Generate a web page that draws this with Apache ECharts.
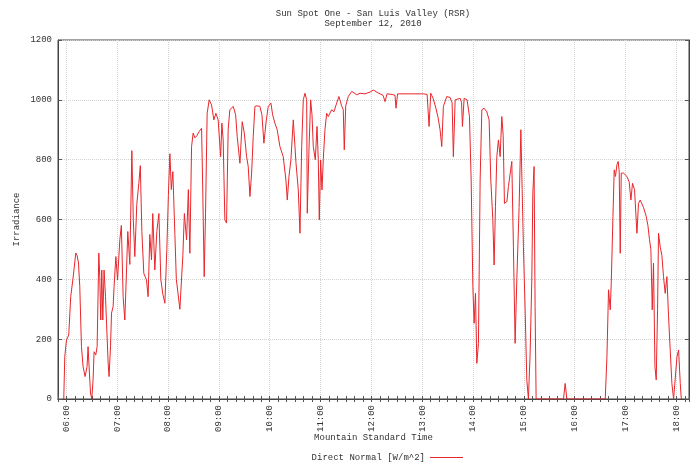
<!DOCTYPE html>
<html><head><meta charset="utf-8">
<script src="https://cdn.jsdelivr.net/npm/echarts@6/dist/echarts.min.js"></script>
<style>html,body{margin:0;padding:0;background:#fff}#c{width:696px;height:464px}</style>
</head><body><div id="c"></div>
<script>
const titleText = 'Sun Spot One - San Luis Valley (RSR)';
const subTitleText = 'September 12, 2010';
const yAxisName = 'Irradiance';
const xAxisName = 'Mountain Standard Time';
const seriesName = 'Direct Normal [W/m^2]';

// x range in minutes after midnight, y range in W/m^2
const xMin = 350, xMax = 1095, xStep = 10;
const yMin = 0, yMax = 1200, yStep = 200;

// time (minutes after midnight, MST)
const timesMin = [
356.8,358,360,362.7,365,367.8,371,372.5,374.2,375.7,377.7,379.6,382,384.3,385.5,386.7,388.4,389.9,391.4,392.6,
394.6,396.2,398.2,399.3,400.5,401.7,402.9,404.4,406.1,407.3,409.2,410.3,412,413.2,415.1,416.2,418.3,420.3,423,424.8,
426.9,428.9,430.9,432.4,434.8,437.2,438.9,440.7,443,445.4,447.2,449,451.3,454.5,456.4,458.4,460.4,461.9,464.3,466.7,
469.1,471.4,473.8,476.2,478.5,480.3,482.1,483.8,485.6,488,489.7,491.9,493.9,495.9,497.4,499.2,501.8,503.9,505.7,507.7,
509.6,511.6,514,516.7,519.5,520.7,522.6,524.2,526.1,528.5,531.3,534,536.4,539.1,542,543.5,545,547,549,550.9,
552.9,556.9,559.7,561.6,564.8,567.5,569.9,572.7,574.6,576.6,578.6,580.5,582.5,584.9,588.4,590.8,593.1,595.5,598.2,601.4,
603.4,606.1,608.8,612,615.9,619.1,620.7,622.7,625,627.8,631,633.7,635.7,637.7,639.6,641.6,643.6,644.3,646.3,648.3,
649.9,651.4,653.8,655.8,657.3,658.5,660.1,661.7,663.2,665.2,667.2,669.1,673.1,675.8,679,681.7,684.9,686.8,688,689.7,
692.7,696.8,702.7,706.6,712.5,718.4,722.3,726.7,730.2,733.8,736.1,738.5,744.4,747.9,749.1,750.9,759.7,771.6,781.4,785.8,
788.1,790.1,792.9,796.4,798.8,801.1,803.1,805,809,812.9,815.3,816.8,818.9,824.8,826.5,827.5,829.5,833,835.8,837.8,
839.8,841.3,842.9,844.5,846.4,848.4,850.4,853.1,856.3,859,861,863.4,864.9,866.5,868.1,870,872,874,875.6,877.1,
880,881.8,885.8,887.7,889.7,891.7,894.4,896.5,898,899.5,901.5,903.5,905.4,907.4,909.4,910.6,912.1,913.3,914.5,946.8,
948.8,950.8,996.1,998.1,1000,1002,1003.2,1005.2,1006.7,1008.2,1009.9,1011.4,1012.6,1013.8,1015,1017.7,1021.7,1024.4,1026.4,1028.3,
1030.7,1033.5,1035.4,1037.4,1041.3,1044.5,1046.5,1048.4,1050,1051.6,1053.1,1054.8,1056.3,1057.9,1059,1061,1063,1064.9,1066.9,1068.9,
1070.8,1072.8,1074.8,1076.8,1078.8,1080.8,1082.7,1084.7,1085.9
];

// Direct normal irradiance (W/m^2)
const directNormal = [
0,141,197,214,342,405,488,480,455,376,175,108,75,108,175,108,20,0,64,158,
147,175,488,409,264,431,264,431,342,254,120,75,175,287,309,376,476,398,532,580,
342,264,431,560,450,830,600,476,650,720,780,560,420,398,342,550,465,620,431,560,
620,400,350,320,500,680,820,700,760,550,400,398,300,298,480,620,532,700,487,844,
889,873,880,894,905,732,409,621,955,1000,983,933,955,933,810,922,866,599,588,900,
967,978,950,877,788,927,890,810,777,677,755,877,978,980,978,950,855,922,978,989,
950,922,900,844,810,732,665,744,800,933,788,699,554,844,1000,1022,1000,621,833,1000,
950,844,800,911,800,599,799,699,800,900,955,944,967,960,989,1011,980,967,833,980,
1011,1028,1017,1022,1020,1026,1033,1025,1020,1015,994,1020,1018,1015,972,1020,1020,1020,1020,1018,
911,1022,1005,970,940,900,844,978,1011,1008,990,810,1000,1005,990,911,1005,1000,944,732,
376,253,353,119,186,732,967,972,960,933,732,599,448,643,810,866,810,944,880,654,
660,710,794,509,186,398,640,900,700,509,300,64,0,150,398,688,777,309,0,0,
52,0,0,141,365,298,387,610,766,744,783,794,760,487,755,755,744,725,665,721,
700,554,654,665,640,610,580,532,500,298,454,108,64,300,554,509,480,409,353,409,
280,164,52,0,0,141,164,52,0
];

const FONT = 'Liberation Mono';
const TXT = '#333';
const pad2 = n => (n < 10 ? '0' : '') + n;
const hourLabel = v => (v % 60 === 0 ? pad2(v / 60) + ':00' : '');

const chart = echarts.init(document.getElementById('c'), null, {renderer: 'canvas'});
const GRID = '#d2d2d2';
const gridCol = ['transparent', GRID, 'transparent', 'transparent', 'transparent', 'transparent'];

chart.setOption({
  animation: false,
  backgroundColor: '#fff',
  graphic: [{
    type: 'text', x: 373, y: 9, silent: true,
    style: {text: titleText + '\n' + subTitleText, align: 'center', font: '9px ' + FONT, fill: TXT, lineHeight: 10}
  }],
  grid: {left: 58, right: 7, top: 40, bottom: 65, show: true, borderColor: '#444', borderWidth: 1},
  legend: {
    right: 228, top: 448, align: 'right', icon: 'rect', itemWidth: 33, itemHeight: 1, itemGap: 4,
    textStyle: {fontFamily: FONT, fontSize: 9, color: TXT},
    data: [seriesName]
  },
  xAxis: [{
    type: 'value', min: xMin, max: xMax, interval: xStep,
    name: xAxisName, nameLocation: 'middle', nameGap: 34, nameMoveOverlap: false,
    nameTextStyle: {fontFamily: FONT, fontSize: 9, color: TXT},
    axisLine: {show: true, lineStyle: {color: '#444'}},
    axisTick: {show: true, inside: true, length: 3, lineStyle: {color: '#555'}},
    axisLabel: {rotate: 90, margin: 6, fontFamily: FONT, fontSize: 9, color: TXT, formatter: hourLabel, showMinLabel: true, showMaxLabel: true},
    splitLine: {show: true, lineStyle: {type: 'dotted', color: gridCol, width: 1}}
  }, {
    type: 'value', position: 'top', min: xMin, max: xMax, interval: xStep,
    axisLine: {show: true, lineStyle: {color: '#444'}},
    axisTick: {show: true, inside: true, length: 3, lineStyle: {color: '#555'}},
    axisLabel: {show: false}, splitLine: {show: false}
  }],
  yAxis: [{
    type: 'value', min: yMin, max: yMax, interval: yStep,
    name: yAxisName, nameLocation: 'middle', nameGap: 37, nameMoveOverlap: false,
    nameTextStyle: {fontFamily: FONT, fontSize: 9, color: TXT},
    axisLine: {show: true, lineStyle: {color: '#444'}},
    axisTick: {show: true, inside: true, length: 4, lineStyle: {color: '#555'}},
    axisLabel: {margin: 6, fontFamily: FONT, fontSize: 9, color: TXT, formatter: v => String(v)},
    splitLine: {show: true, lineStyle: {type: 'dotted', color: GRID, width: 1}}
  }, {
    type: 'value', position: 'right', min: yMin, max: yMax, interval: yStep,
    axisLine: {show: true, lineStyle: {color: '#444'}},
    axisTick: {show: true, inside: true, length: 4, lineStyle: {color: '#555'}},
    axisLabel: {show: false}, splitLine: {show: false}
  }],
  series: [{
    name: seriesName, type: 'line', xAxisIndex: 0, yAxisIndex: 0,
    data: timesMin.map((t, i) => [t, directNormal[i]]),
    showSymbol: false, symbol: 'none', sampling: null,
    lineStyle: {color: '#e8262b', width: 1},
    itemStyle: {color: '#e8262b'}
  }]
});
</script>
</body></html>
